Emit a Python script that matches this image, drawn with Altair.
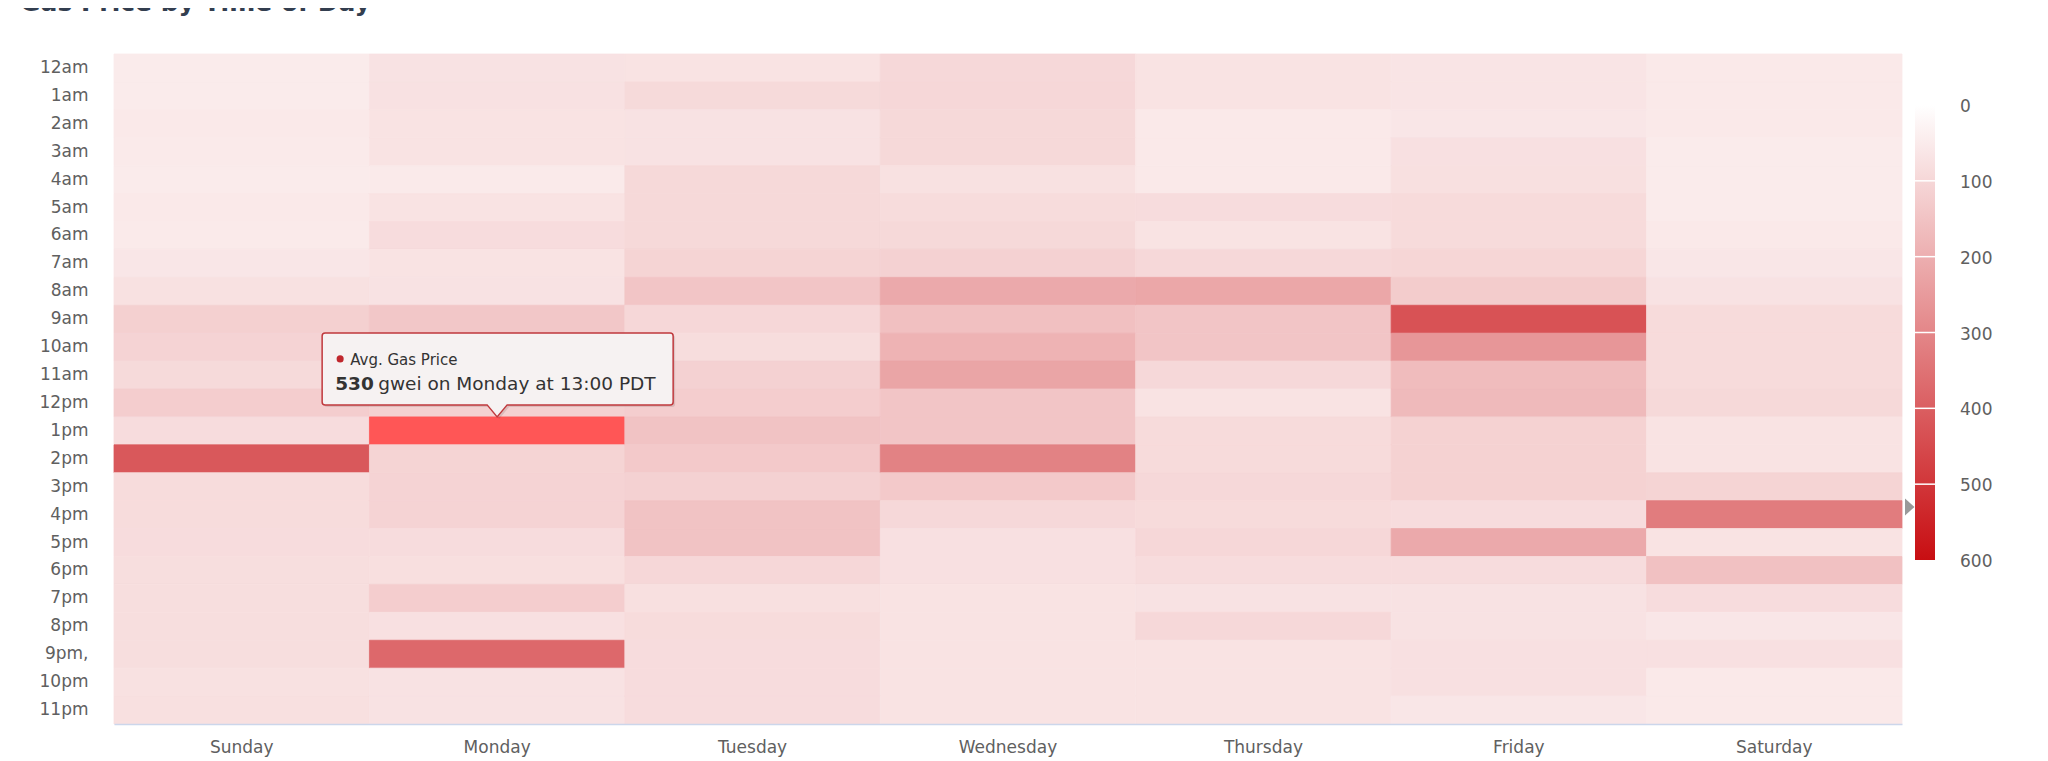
import altair as alt
import pandas as pd

# ---------------- data ----------------
days = ["Sunday", "Monday", "Tuesday", "Wednesday", "Thursday", "Friday", "Saturday"]
hour_labels = ["12am", "1am", "2am", "3am", "4am", "5am", "6am", "7am", "8am", "9am",
               "10am", "11am", "12pm", "1pm", "2pm", "3pm", "4pm", "5pm", "6pm", "7pm",
               "8pm", "9pm,", "10pm", "11pm"]

sunday    = [50, 50, 55, 52, 50, 55, 52, 62, 75, 118, 110, 93, 125, 86, 416, 88, 88, 86, 83, 83, 83, 83, 75, 78]
monday    = [71, 74, 70, 70, 52, 70, 86, 70, 72, 140, 105, 110, 118, 530, 108, 110, 110, 86, 80, 125, 76, 375, 72, 72]
tuesday   = [70, 93, 72, 72, 95, 95, 95, 108, 145, 100, 85, 115, 125, 150, 135, 115, 150, 150, 100, 78, 88, 86, 86, 86]
wednesday = [96, 100, 95, 95, 75, 88, 95, 115, 213, 157, 190, 225, 145, 145, 311, 135, 96, 76, 76, 70, 70, 70, 70, 70]
thursday  = [70, 70, 56, 56, 56, 86, 70, 96, 220, 145, 145, 96, 70, 90, 90, 96, 90, 100, 86, 72, 96, 70, 70, 70]
friday    = [66, 66, 62, 76, 78, 90, 90, 103, 128, 430, 262, 167, 172, 113, 113, 113, 86, 213, 86, 72, 72, 76, 76, 62]
saturday  = [56, 56, 56, 50, 50, 50, 56, 62, 72, 90, 90, 90, 95, 70, 70, 108, 326, 70, 155, 86, 62, 76, 56, 56]

legend_labels = [0, 100, 200, 300, 400, 500, 600]
legend_separators = [100, 200, 300, 400, 500]
color_min, color_max = 0, 600

hover_day = "Monday"
hover_hour = 13
title_text = "Gas Price by Time of Day"
series_name = "Avg. Gas Price"

rows = []
for d, vals in zip(days, [sunday, monday, tuesday, wednesday, thursday, friday, saturday]):
    for h, (lab, v) in enumerate(zip(hour_labels, vals)):
        rows.append({"day": d, "hour": h, "hour_label": lab, "price": v})
df = pd.DataFrame(rows)

# ---------------- styling ----------------
W, H = 1788, 670
FONT = "DejaVu Sans"
LABEL_COLOR = "#606060"
MAX_COLOR = "#c80e12"
HOVER_COLOR = "#ff5656"
hover_expr = f"datum.day == '{hover_day}' && datum.hour == {hover_hour}"

x_band = alt.Scale(domain=days, paddingInner=0, paddingOuter=0)
y_band = alt.Scale(type="band", domain=hour_labels, paddingInner=0, paddingOuter=0)
legend_scale = alt.Scale(domain=[color_min, color_max], range=[51, 506], nice=False, zero=False)
heat_scale = alt.Scale(domain=[color_min, color_max], range=["#ffffff", MAX_COLOR],
                       interpolate="rgb")

heat = alt.Chart(df).mark_rect(strokeWidth=0.8).encode(
    x=alt.X("day:N", scale=x_band, title=None,
            axis=alt.Axis(labelAngle=0, ticks=False, domain=True, domainColor="#ccd6eb",
                          domainWidth=1.5, labelPadding=15, labelFontSize=17,
                          labelColor=LABEL_COLOR, labelFont=FONT, grid=False)),
    y=alt.Y("hour_label:N", scale=y_band, title=None,
            axis=alt.Axis(ticks=False, domain=False, labelPadding=26, labelFontSize=17,
                          labelColor=LABEL_COLOR, labelFont=FONT, grid=False)),
    color=alt.condition(hover_expr, alt.value(HOVER_COLOR),
                        alt.Color("price:Q", legend=None, scale=heat_scale)),
    stroke=alt.condition(hover_expr, alt.value(HOVER_COLOR),
                         alt.Stroke("price:Q", legend=None, scale=heat_scale)),
)

tip_base = alt.Chart(df).transform_filter(hover_expr).transform_calculate(
    header=f"'{series_name}'",
    val="format(datum.price, 'd')",
    rest="'gwei on ' + datum.day + ' at ' + datum.hour + ':00 PDT'",
).encode(
    x=alt.X("day:N", scale=x_band, title=None),
    y=alt.Y("hour_label:N", scale=y_band, title=None),
)

box_path = ("M-172,-98 L173,-98 Q176,-98 176,-95 L176,-29 Q176,-26 173,-26 "
            "L10,-26 L0,-14 L-10,-26 L-172,-26 Q-175,-26 -175,-29 L-175,-95 "
            "Q-175,-98 -172,-98 Z")

tip_shadow = tip_base.mark_point(shape=box_path, size=4, filled=True, fill="#000000",
                                 opacity=0.10, strokeWidth=0, xOffset=2, yOffset=2)
tip_box = tip_base.mark_point(shape=box_path, size=4, filled=True, fill="#f7f4f4",
                              fillOpacity=0.97, opacity=1, stroke="#c0393d", strokeWidth=1.5)
tip_dot = tip_base.mark_point(shape="circle", size=50, filled=True, color="#c0272d",
                              opacity=1, xOffset=-157, yOffset=-72)
tip_head = tip_base.mark_text(align="left", baseline="alphabetic", dx=-147, dy=-66,
                              fontSize=15, font=FONT, color="#333333").encode(text="header:N")
tip_val = tip_base.mark_text(align="left", baseline="alphabetic", dx=-162, dy=-41,
                             fontSize=18.5, font=FONT, fontWeight="bold",
                             color="#333333").encode(text="val:N")
tip_rest = tip_base.mark_text(align="left", baseline="alphabetic", dx=-119, dy=-41,
                              fontSize=18.5, font=FONT, color="#333333").encode(text="rest:N")

main = alt.layer(heat, tip_shadow, tip_box, tip_dot, tip_head, tip_val, tip_rest)

# ---------------- colour axis (legend) ----------------
bar = alt.Chart(pd.DataFrame({"lo": [color_min], "hi": [color_max]})).mark_rect(
    color=alt.Gradient(gradient="linear",
                       stops=[alt.GradientStop(color="#ffffff", offset=0),
                              alt.GradientStop(color=MAX_COLOR, offset=1)],
                       x1=0, x2=0, y1=0, y2=1)
).encode(
    x=alt.value(1801), x2=alt.value(1821),
    y=alt.Y("lo:Q", scale=legend_scale, axis=None), y2="hi:Q",
)
seps = alt.Chart(pd.DataFrame({"v": legend_separators})).mark_rule(
    color="#ffffff", strokeWidth=1.5
).encode(
    x=alt.value(1801), x2=alt.value(1821),
    y=alt.Y("v:Q", scale=legend_scale, axis=None),
)
labels = alt.Chart(pd.DataFrame({"v": legend_labels})).mark_text(
    align="left", baseline="middle", fontSize=17, font=FONT, color=LABEL_COLOR, dy=2
).encode(
    x=alt.value(1846),
    y=alt.Y("v:Q", scale=legend_scale, axis=None),
    text=alt.Text("v:Q", format="d"),
)
marker = alt.Chart(df).transform_filter(hover_expr).mark_point(
    shape="M-5,-8.5 L4.5,0 L-5,8.5 Z", size=4, filled=True, fill="#999999",
    opacity=1, strokeWidth=0
).encode(
    x=alt.value(1796),
    y=alt.Y("price:Q", scale=legend_scale, axis=None),
)
title = alt.Chart(pd.DataFrame({"t": [title_text]})).mark_text(
    align="left", baseline="alphabetic", fontSize=25, font=FONT, fontWeight="bold",
    color="#333e4f"
).encode(x=alt.value(-94), y=alt.value(-43), text="t:N")

legend = alt.layer(bar, seps, labels, marker, title)

chart = alt.layer(main, legend).resolve_scale(y="independent").properties(
    width=W, height=H,
    autosize=alt.AutoSizeParams(type="none"),
    padding={"left": 106, "top": 46, "right": 130, "bottom": 42},
    background="#ffffff",
).configure_view(strokeWidth=0)

chart.save("out.html", embed_options={"renderer": "svg", "actions": False})
